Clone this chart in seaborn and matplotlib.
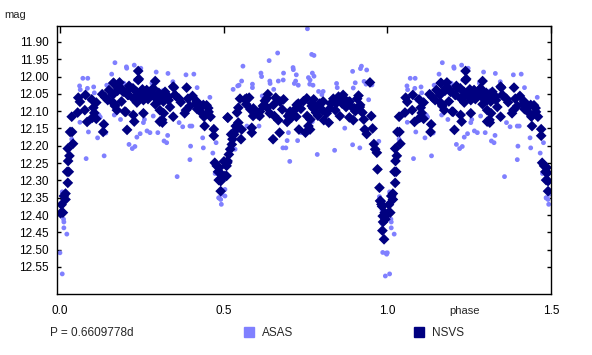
import numpy as np
import pandas as pd
import matplotlib
matplotlib.use('Agg')
import matplotlib.pyplot as plt
from matplotlib.lines import Line2D
import seaborn as sns

# phased light curve, phase 0..1 (points with phase < 0.5 are repeated at phase + 1)
nsvs_phase = [0.002, 0.005, 0.009, 0.012, 0.017, 0.017, 0.024, 0.022, 0.027, 0.025, 0.029, 0.024, 0.040,
              0.031, 0.037, 0.036, 0.054, 0.056, 0.061, 0.076, 0.078, 0.083, 0.097, 0.099, 0.102, 0.105,
              0.111, 0.111, 0.129, 0.134, 0.132, 0.138, 0.146, 0.150, 0.164, 0.162, 0.168, 0.174, 0.176,
              0.182, 0.190, 0.201, 0.205, 0.207, 0.211, 0.223, 0.227, 0.231, 0.235, 0.239, 0.241, 0.248,
              0.252, 0.255, 0.252,
              0.163, 0.178, 0.193, 0.209, 0.214, 0.224, 0.239, 0.234, 0.250, 0.255, 0.265, 0.280, 0.285,
              0.295, 0.305, 0.316, 0.321, 0.331, 0.346, 0.351, 0.418, 0.438, 0.453, 0.168, 0.198, 0.224,
              0.305, 0.161, 0.188,
              0.253, 0.265, 0.269, 0.283, 0.291, 0.290, 0.291, 0.302, 0.305, 0.305, 0.312, 0.313, 0.317,
              0.324, 0.332, 0.336, 0.346, 0.348, 0.354, 0.364, 0.369, 0.381, 0.387, 0.385, 0.391, 0.397,
              0.405, 0.415, 0.419, 0.429, 0.434, 0.440, 0.442, 0.448, 0.454, 0.460, 0.470, 0.470, 0.473,
              0.479, 0.483, 0.485, 0.487, 0.489, 0.491, 0.491, 0.501, 0.509, 0.511, 0.513,
              0.504, 0.509, 0.512, 0.516, 0.520, 0.525, 0.527, 0.532, 0.523, 0.539, 0.545, 0.537, 0.541,
              0.545, 0.550, 0.553, 0.555, 0.565, 0.569, 0.578, 0.582, 0.586, 0.586, 0.590, 0.604, 0.610,
              0.512, 0.620, 0.626, 0.635, 0.633, 0.641, 0.651, 0.655, 0.659, 0.667, 0.671, 0.679, 0.683,
              0.694, 0.697, 0.703, 0.708, 0.718, 0.722, 0.728, 0.730, 0.736, 0.744, 0.750, 0.755, 0.759,
              0.765, 0.769, 0.775,
              0.570, 0.591, 0.611, 0.632, 0.652, 0.672, 0.703, 0.723, 0.754, 0.774, 0.804, 0.825, 0.850,
              0.865, 0.885, 0.900, 0.917,
              0.764, 0.770, 0.782, 0.782, 0.788, 0.794, 0.802, 0.806, 0.815, 0.821, 0.827, 0.835, 0.841,
              0.843, 0.851, 0.855, 0.862, 0.868, 0.874, 0.880, 0.884, 0.892, 0.896, 0.902, 0.908, 0.912,
              0.916, 0.924, 0.928, 0.931, 0.937, 0.947, 0.951, 0.955, 0.959, 0.963, 0.968, 0.970, 0.976,
              0.978, 0.980, 0.982, 0.984, 0.986, 0.987, 0.985, 0.990, 0.992, 0.994, 0.996]
nsvs_mag = [12.395, 12.370, 12.393, 12.345, 12.355, 12.338, 12.307, 12.275, 12.275, 12.244, 12.229, 12.208, 12.194,
            12.160, 12.160, 12.116, 12.104, 12.061, 12.073, 12.097, 12.053, 12.131, 12.066, 12.119, 12.090, 12.105,
            12.075, 12.122, 12.051, 12.138, 12.160, 12.060, 12.068, 12.039, 12.018, 12.075, 12.085, 12.097, 12.041,
            12.017, 12.037, 12.102, 12.154, 12.053, 12.027, 12.034, 12.130, 12.062, 12.075, 11.984, 12.007, 12.050,
            12.058, 12.106, 12.037,
            12.019, 12.034, 12.044, 12.053, 12.034, 12.063, 12.010, 12.044, 12.053, 12.068, 12.039, 12.053, 12.034,
            12.063, 12.053, 12.072, 12.044, 12.058, 12.029, 12.053, 12.072, 12.082, 12.091, 12.082, 12.101, 12.111,
            12.130, 12.053, 12.072,
            12.050, 12.041, 12.065, 12.037, 12.013, 12.060, 12.080, 12.047, 12.097, 12.068, 12.125, 12.133, 12.106,
            12.060, 12.068, 12.088, 12.116, 12.032, 12.056, 12.064, 12.074, 12.106, 12.032, 12.097, 12.064, 12.085,
            12.056, 12.079, 12.094, 12.085, 12.106, 12.116, 12.143, 12.083, 12.102, 12.116, 12.152, 12.171, 12.249,
            12.258, 12.275, 12.299, 12.263, 12.278, 12.302, 12.331, 12.245, 12.287, 12.249, 12.119,
            12.287, 12.258, 12.244, 12.225, 12.210, 12.196, 12.181, 12.167, 12.167, 12.153, 12.133, 12.143, 12.104,
            12.090, 12.064, 12.181, 12.153, 12.066, 12.080, 12.061, 12.095, 12.162, 12.148, 12.114, 12.109, 12.114,
            12.118, 12.085, 12.070, 12.051, 12.090, 12.106, 12.181, 12.114, 12.061, 12.126, 12.162, 12.095, 12.066,
            12.131, 12.114, 12.106, 12.118, 12.095, 12.116, 12.078, 12.153, 12.093, 12.071, 12.162, 12.114, 12.143,
            12.124, 12.085, 12.066,
            12.063, 12.092, 12.101, 12.063, 12.082, 12.072, 12.101, 12.082, 12.063, 12.092, 12.072, 12.092, 12.063,
            12.053, 12.072, 12.092, 12.082,
            12.153, 12.078, 12.088, 12.104, 12.113, 12.078, 12.097, 12.126, 12.106, 12.133, 12.078, 12.064, 12.097,
            12.078, 12.058, 12.114, 12.078, 12.064, 12.088, 12.073, 12.118, 12.088, 12.126, 12.100, 12.064, 12.055,
            12.088, 12.104, 12.124, 12.153, 12.166, 12.017, 12.114, 12.150, 12.195, 12.210, 12.220, 12.268, 12.321,
            12.359, 12.360, 12.369, 12.375, 12.403, 12.420, 12.445, 12.470, 12.393, 12.412, 12.400]

asas_phase = [0.000, 0.007, 0.007, 0.011, 0.012, 0.012, 0.021, 0.014, 0.036, 0.061, 0.060, 0.062, 0.070,
              0.085, 0.084, 0.080, 0.087, 0.091, 0.091, 0.103, 0.105, 0.115, 0.119, 0.123, 0.135, 0.140,
              0.143, 0.158, 0.168, 0.166, 0.174, 0.185, 0.195, 0.203, 0.211, 0.221, 0.227, 0.229, 0.231,
              0.235, 0.245, 0.247, 0.204,
              0.255, 0.258, 0.266, 0.275, 0.281, 0.285, 0.294, 0.299, 0.314, 0.318, 0.326, 0.330, 0.329,
              0.345, 0.358, 0.364, 0.375, 0.385, 0.397, 0.399, 0.403, 0.397, 0.409, 0.419, 0.436, 0.438,
              0.458, 0.467, 0.477, 0.485, 0.493, 0.491, 0.495, 0.474, 0.486, 0.497,
              0.504, 0.504, 0.535, 0.529, 0.543, 0.547, 0.555, 0.559, 0.571, 0.588, 0.588, 0.608, 0.614,
              0.618, 0.632, 0.639, 0.641, 0.653, 0.665, 0.667, 0.673, 0.681, 0.683, 0.690, 0.694, 0.698,
              0.702, 0.712, 0.716, 0.720, 0.722, 0.726, 0.728, 0.737, 0.756, 0.759, 0.769, 0.771, 0.763,
              0.773, 0.771, 0.616, 0.682, 0.713, 0.764, 0.642,
              0.776, 0.776, 0.786, 0.790, 0.800, 0.804, 0.839, 0.847, 0.870, 0.894, 0.894, 0.896, 0.902,
              0.916, 0.918, 0.929, 0.935, 0.937, 0.943, 0.953, 0.974, 0.976, 0.980, 0.984, 0.983, 0.986,
              0.998, 0.994, 0.996, 0.921, 0.845]
asas_mag = [12.509, 12.570, 12.333, 12.412, 12.420, 12.437, 12.455, 12.345, 12.181, 12.132, 12.027, 12.038, 12.005,
            12.005, 12.034, 12.237, 12.160, 12.068, 12.131, 12.030, 12.047, 12.177, 12.111, 12.117, 12.229, 12.163,
            12.025, 11.993, 11.960, 12.111, 12.037, 12.124, 12.019, 11.972, 12.196, 12.208, 11.967, 12.202, 12.010,
            12.175, 12.165, 11.976, 11.976,
            12.133, 12.124, 12.157, 12.162, 12.019, 12.114, 11.987, 12.162, 12.041, 12.186, 12.191, 11.991, 12.170,
            12.015, 12.289, 12.133, 12.145, 11.995, 12.143, 12.201, 12.143, 12.240, 11.993, 12.032, 12.177, 12.206,
            12.060, 12.221, 12.191, 12.350, 12.369, 12.355, 12.340, 12.280, 12.351, 12.330,
            12.326, 12.345, 12.210, 12.037, 12.027, 12.025, 12.013, 11.970, 12.143, 12.022, 12.032, 12.143, 11.990,
            12.056, 12.066, 11.954, 12.013, 12.037, 11.932, 12.013, 12.066, 12.206, 11.990, 12.206, 12.185, 12.162,
            12.245, 11.974, 12.020, 12.013, 11.995, 12.185, 12.025, 12.162, 11.862, 12.003, 11.936, 11.990, 12.022,
            12.025, 12.130, 12.000, 12.010, 11.980, 12.010, 12.020,
            11.939, 11.999, 12.225, 12.043, 12.052, 12.043, 12.213, 12.032, 12.149, 11.985, 12.197, 12.033, 12.018,
            12.206, 11.977, 12.014, 12.022, 11.981, 12.067, 12.024, 12.187, 12.347, 12.359, 12.386, 12.424, 12.508,
            12.513, 12.576, 12.510, 11.970, 12.020]

xticks = [0.0, 0.5, 1.0, 1.5]
xtick_labels = ['0.0', '0.5', '1.0', '1.5']
yticks = [11.90, 11.95, 12.00, 12.05, 12.10, 12.15, 12.20, 12.25, 12.30, 12.35, 12.40, 12.45, 12.50, 12.55]
ytick_labels = ['%.2f' % v for v in yticks]
period_text = 'P = 0.6609778d'

asas_color = '#8080ff'
nsvs_color = '#000080'


def extend(phase, mag):
    p = list(phase) + [x + 1 for x in phase if x <= 0.5]
    m = list(mag) + [y for x, y in zip(phase, mag) if x <= 0.5]
    return p, m


ap, am = extend(asas_phase, asas_mag)
np_, nm = extend(nsvs_phase, nsvs_mag)
df = pd.DataFrame({
    'phase': ap + np_,
    'mag': am + nm,
    'survey': ['ASAS'] * len(ap) + ['NSVS'] * len(np_),
})

sns.set_style('white')
plt.rcParams['font.family'] = ['Liberation Sans', 'DejaVu Sans']

fig = plt.figure(figsize=(5.92, 3.55), dpi=100)
ax = fig.add_axes([57 / 592, 1 - 294 / 355, 494 / 592, 268 / 355])

sns.scatterplot(data=df, x='phase', y='mag', hue='survey', style='survey', size='survey',
                palette={'ASAS': asas_color, 'NSVS': nsvs_color},
                markers={'ASAS': 'o', 'NSVS': 'D'},
                sizes={'ASAS': 12, 'NSVS': 30},
                linewidth=0, legend=False, ax=ax)

ax.set_xlim(-0.009, 1.5)
ax.set_ylim(12.628, 11.854)
ax.set_xticks(xticks)
ax.set_xticklabels(xtick_labels)
ax.set_yticks(yticks)
ax.set_yticklabels(ytick_labels)
ax.set_xlabel('')
ax.set_ylabel('')
ax.tick_params(axis='x', direction='in', top=True, bottom=False, length=5, width=1,
               labelsize=8.5, pad=8, colors='black')
ax.tick_params(axis='y', direction='in', left=True, right=True, length=3, width=1,
               labelsize=8.5, pad=6, colors='black')
for s in ax.spines.values():
    s.set_color('black')
    s.set_linewidth(1)

fig.text(15 / 592, 1 - 15 / 355, 'mag', fontsize=8, ha='center', va='center')
fig.text(465 / 592, 1 - 311 / 355, 'phase', fontsize=8, ha='center', va='center')
fig.text(50 / 592, 1 - 333 / 355, period_text, fontsize=8.5, ha='left', va='center')

handles = [Line2D([], [], marker='s', linestyle='', color=asas_color, markersize=7.5),
           Line2D([], [], marker='s', linestyle='', color=nsvs_color, markersize=7.5)]
fig.legend(handles, ['ASAS', 'NSVS'], ncol=2, frameon=False, fontsize=8.5,
           loc='center left', bbox_to_anchor=(232 / 592, 1 - 333 / 355),
           handlelength=1.0, handletextpad=0.6, columnspacing=10.2)

fig.savefig('out.png', dpi=100)
